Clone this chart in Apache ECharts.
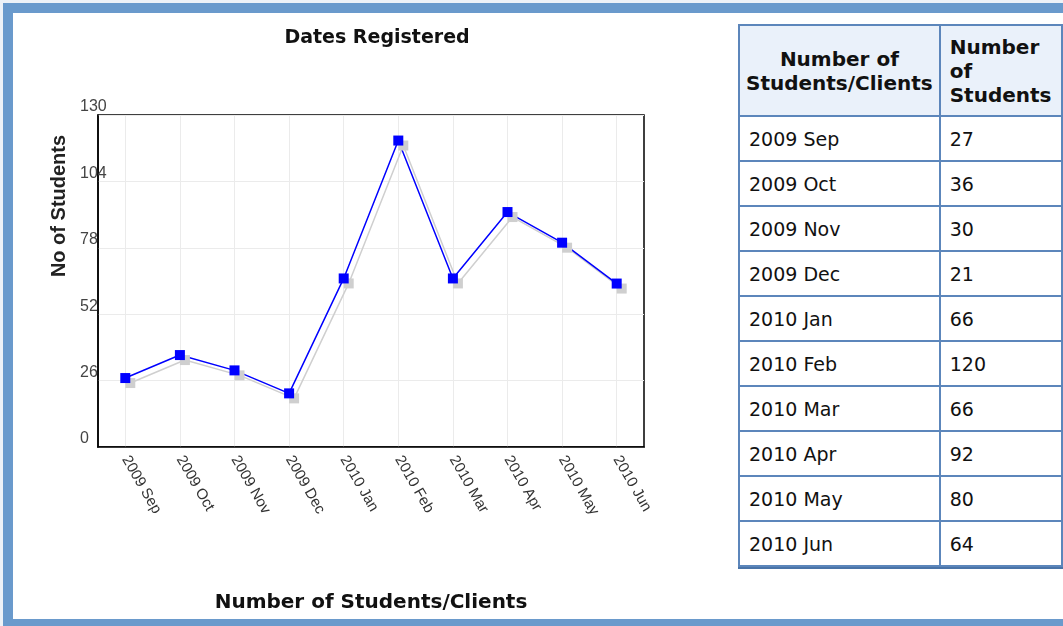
<!DOCTYPE html>
<html>
<head>
<meta charset="utf-8">
<script src="https://cdn.jsdelivr.net/npm/echarts@6/dist/echarts.min.js"></script>
<style>
  html, body { margin: 0; padding: 0; width: 1063px; height: 626px; overflow: hidden; background: #eef2f7; }
  #frame {
    position: absolute; left: 3px; top: 3px; width: 1200px; height: 606px;
    border: 10px solid #6a9acc; background: #fff;
  }
  #chart { position: absolute; left: 0; top: 0; width: 730px; height: 626px; }
  #tbl {
    position: absolute; left: 738px; top: 24px; border-collapse: collapse;
    font-family: "DejaVu Sans", Verdana, sans-serif; font-size: 19px; color: #111;
    box-shadow: 0 2px 0 #4a74a8;
  }
  #tbl td, #tbl th { border: 2px solid #5c86bb; padding: 0 9px; height: 43px; white-space: nowrap; }
  #tbl th { background: #eaf1fa; font-weight: bold; font-size: 20px; line-height: 24px; height: 89px; padding: 0 4px; }
  #tbl th.c1 { text-align: center; width: 200px; }
  #tbl th.c2 { text-align: left; width: 120px; padding-left: 9px; }
</style>
</head>
<body>
<div id="frame"></div>
<div id="chart"></div>
<table id="tbl"></table>
<script>
// 数据
const months = ['2009 Sep', '2009 Oct', '2009 Nov', '2009 Dec', '2010 Jan', '2010 Feb', '2010 Mar', '2010 Apr', '2010 May', '2010 Jun'];
const students = [27, 36, 30, 21, 66, 120, 66, 92, 80, 64];
const yTicks = { min: 0, max: 130, interval: 26 };

// 表格
let html = '<tr><th class="c1">Number of<br>Students/Clients</th><th class="c2">Number<br>of<br>Students</th></tr>';
months.forEach((m, i) => {
  html += `<tr><td>${m}</td><td>${students[i]}</td></tr>`;
});
document.getElementById('tbl').innerHTML = html;

const chart = echarts.init(document.getElementById('chart'));
chart.setOption({
  animation: false,
  title: {
    text: 'Dates Registered',
    left: 372,
    top: 24,
    textAlign: 'center',
    textStyle: { fontFamily: 'DejaVu Sans', fontWeight: 'bold', fontSize: 19, color: '#111' }
  },
  grid: {
    left: 98, top: 115, width: 546, height: 332,
    show: true, borderColor: '#000', borderWidth: 1.5
  },
  graphic: [{
    type: 'text',
    x: 59, y: 206,
    rotation: Math.PI / 2,
    style: {
      text: 'No of Students',
      font: 'bold 20px "Liberation Sans", Arial, sans-serif',
      fill: '#222',
      align: 'center',
      verticalAlign: 'middle'
    }
  }],
  xAxis: {
    type: 'category',
    data: months,
    boundaryGap: true,
    name: 'Number of Students/Clients',
    nameLocation: 'middle',
    nameGap: 146,
    nameTextStyle: { fontFamily: 'DejaVu Sans', fontWeight: 'bold', fontSize: 20, color: '#111' },
    axisLine: { lineStyle: { color: '#000', width: 1.5 } },
    axisTick: { show: false, alignWithLabel: true },
    axisLabel: {
      interval: 0, rotate: -60, margin: 10,
      fontFamily: 'Liberation Sans', fontSize: 15, color: '#333'
    },
    splitLine: { show: true, alignWithLabel: true, lineStyle: { color: '#ebebeb', width: 1 } }
  },
  yAxis: {
    type: 'value',
    min: yTicks.min, max: yTicks.max, interval: yTicks.interval,
    axisLine: { show: true, lineStyle: { color: '#000', width: 1.5 } },
    axisTick: { show: false },
    axisLabel: {
      align: 'left', verticalAlign: 'bottom', margin: 18,
      fontFamily: 'Liberation Sans', fontSize: 16, color: '#444'
    },
    splitLine: { lineStyle: { color: '#ebebeb', width: 1 } }
  },
  series: [{
    type: 'line',
    data: students,
    symbol: 'rect',
    symbolSize: 10,
    color: '#0000ff',
    lineStyle: {
      color: '#0000ff', width: 1.5,
      shadowColor: '#cfcfcf', shadowBlur: 0, shadowOffsetX: 5, shadowOffsetY: 5
    },
    itemStyle: {
      color: '#0000ff',
      shadowColor: '#cfcfcf', shadowBlur: 0, shadowOffsetX: 5, shadowOffsetY: 5
    }
  }]
});
</script>
</body>
</html>
